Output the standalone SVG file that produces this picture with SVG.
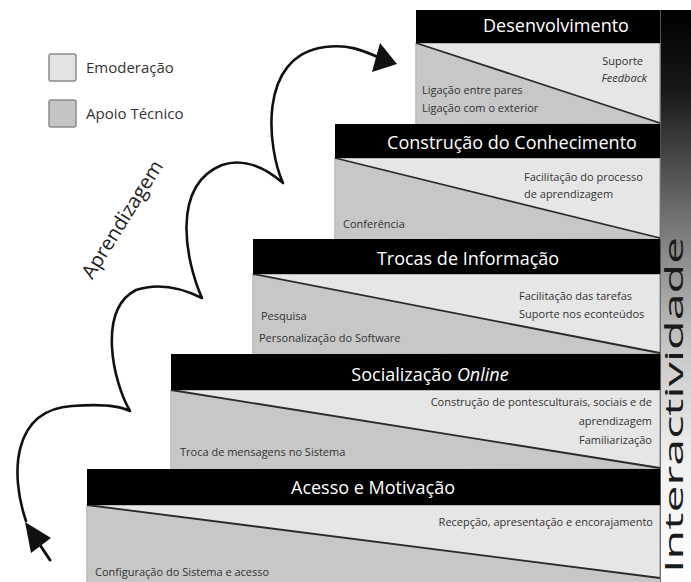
<svg xmlns="http://www.w3.org/2000/svg" width="691" height="582" viewBox="0 0 691 582">
  <defs>
    <linearGradient id="barFade" x1="0" y1="10" x2="0" y2="582" gradientUnits="userSpaceOnUse">
      <stop offset="0" stop-color="#000"/>
      <stop offset="0.14" stop-color="#181818"/>
      <stop offset="0.36" stop-color="#707070"/>
      <stop offset="0.58" stop-color="#c4c4c4"/>
      <stop offset="0.78" stop-color="#efefef"/>
      <stop offset="1" stop-color="#fff"/>
    </linearGradient>
  </defs>
  <style>
    .hdr { fill: #000; }
    .lite { fill: #e6e6e6; stroke: #8a8a8a; stroke-width: 1; }
    .dark { fill: #c7c7c7; }
    .diag { stroke: #2a2a2a; stroke-width: 1.8; fill: none; }
    .title { font-family: "Open Sans", "Liberation Sans", sans-serif; font-size: 18px; fill: #fff; text-anchor: middle; }
    .note { font-family: "Open Sans", "Liberation Sans", sans-serif; font-size: 11px; fill: #333; }
    .end { text-anchor: end; }
    .it { font-style: italic; }
    .legend { font-family: "Open Sans", "Liberation Sans", sans-serif; font-size: 15px; fill: #333; }
    .swatch { stroke: #8a8a8a; stroke-width: 1.5; }
    .wave { fill: none; stroke: #111; stroke-width: 2.6; stroke-linecap: round; stroke-linejoin: round; }
  </style>

  <rect width="691" height="582" fill="#fff"/>

  <!-- side bar -->
  <g id="interactividade">
    <rect x="660" y="10" width="31" height="572" fill="url(#barFade)"/>
    <line x1="660.5" y1="10" x2="660.5" y2="582" stroke="#555" stroke-width="1"/>
    <text transform="translate(683,573) rotate(-90) scale(1.86,1)" font-family="'Open Sans', 'Liberation Sans', sans-serif" font-size="26" fill="#1a1a1a">Interactividade</text>
  </g>

  <!-- legend -->
  <g id="legend">
    <rect class="swatch" x="49" y="54" width="27" height="27" rx="2" fill="#e3e3e3"/>
    <text class="legend" x="86" y="73">Emoderação</text>
    <rect class="swatch" x="49" y="100" width="27" height="27" rx="2" fill="#c4c4c4"/>
    <text class="legend" x="86" y="119">Apoio Técnico</text>
  </g>

  <!-- step 1 -->
  <g id="desenvolvimento">
    <rect class="lite" x="416" y="43" width="244" height="81"/>
    <polygon class="dark" points="416.5,43 660,123 416.5,124"/>
    <line class="diag" x1="416" y1="43" x2="660" y2="123"/>
    <rect class="hdr" x="416" y="10" width="244" height="33"/>
    <text class="title" x="556" y="32">Desenvolvimento</text>
    <text class="note end" x="643" y="65">Suporte</text>
    <text class="note end it" x="647" y="82">Feedback</text>
    <text class="note" x="422" y="94">Ligação entre pares</text>
    <text class="note" x="422" y="112">Ligação com o exterior</text>
  </g>

  <!-- step 2 -->
  <g id="construcao">
    <rect class="lite" x="335" y="158" width="325" height="81"/>
    <polygon class="dark" points="335.5,158 660,238 335.5,239"/>
    <line class="diag" x1="335" y1="158" x2="660" y2="238"/>
    <rect class="hdr" x="335" y="124" width="325" height="34"/>
    <text class="title" x="512" y="149">Construção do Conhecimento</text>
    <text class="note" x="524" y="181">Facilitação do processo</text>
    <text class="note" x="524" y="198">de aprendizagem</text>
    <text class="note" x="343" y="228">Conferência</text>
  </g>

  <!-- step 3 -->
  <g id="trocas">
    <rect class="lite" x="253" y="274" width="407" height="80"/>
    <polygon class="dark" points="253.5,274 660,353 253.5,354"/>
    <line class="diag" x1="253" y1="274" x2="660" y2="353"/>
    <rect class="hdr" x="253" y="239" width="407" height="35"/>
    <text class="title" x="468" y="265">Trocas de Informação</text>
    <text class="note" x="519" y="300">Facilitação das tarefas</text>
    <text class="note" x="519" y="318">Suporte nos econteúdos</text>
    <text class="note" x="261" y="320">Pesquisa</text>
    <text class="note" x="259" y="342">Personalização do Software</text>
  </g>

  <!-- step 4 -->
  <g id="socializacao">
    <rect class="lite" x="171" y="390" width="489" height="79"/>
    <polygon class="dark" points="171.5,390 660,468 171.5,469"/>
    <line class="diag" x1="171" y1="390" x2="660" y2="468"/>
    <rect class="hdr" x="171" y="354" width="489" height="36"/>
    <text class="title" x="430" y="381">Socialização <tspan class="it">Online</tspan></text>
    <text class="note end" x="652" y="406">Construção de pontesculturais, sociais e de</text>
    <text class="note end" x="652" y="425">aprendizagem</text>
    <text class="note end" x="652" y="444">Familiarização</text>
    <text class="note" x="180" y="456">Troca de mensagens no Sistema</text>
  </g>

  <!-- step 5 -->
  <g id="acesso">
    <rect class="lite" x="87" y="505" width="573" height="78"/>
    <polygon class="dark" points="87.5,505 660,578 660,583 87.5,583"/>
    <line class="diag" x1="87" y1="505" x2="660" y2="578"/>
    <rect class="hdr" x="87" y="469" width="573" height="36"/>
    <text class="title" x="373" y="494">Acesso e Motivação</text>
    <text class="note end" x="653" y="526">Recepção, apresentação e encorajamento</text>
    <text class="note" x="95" y="576">Configuração do Sistema e acesso</text>
  </g>

  <!-- learning path -->
  <g id="connectors">
    <path class="wave" d="M 26,521 C 10,474 12,410 72,406 C 98,404 118,405 130,411 C 113,382 97,310 136,290 C 160,282 184,289 202,298 C 186,262 170,186 222,165 C 246,157 268,170 283,183 C 268,150 256,56 325,47 C 348,44 362,50 380,58"/>
    <polygon points="397,64 380,43 372,72" fill="#111"/>
    <polygon points="25,522 51,538 31,553" fill="#111"/>
    <line x1="40" y1="545" x2="50" y2="560" stroke="#111" stroke-width="3" stroke-linecap="round"/>
    <text transform="translate(128,223) rotate(-58)" font-family="'Open Sans', 'Liberation Sans', sans-serif" font-size="20" fill="#222" text-anchor="middle">Aprendizagem</text>
  </g>
</svg>
